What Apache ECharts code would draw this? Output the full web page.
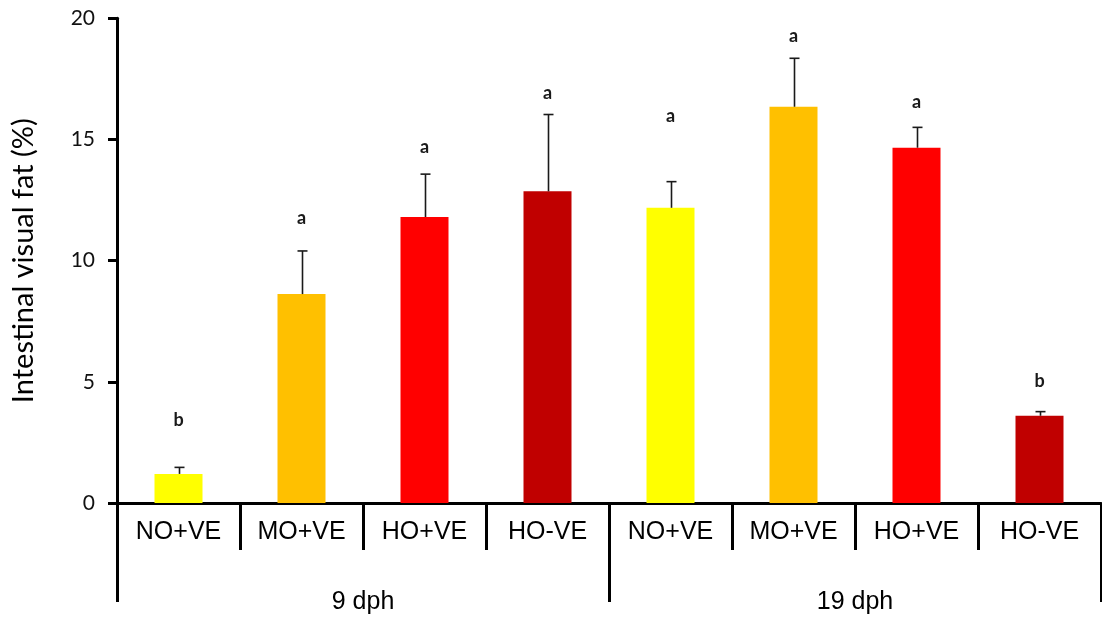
<!DOCTYPE html>
<html>
<head>
<meta charset="utf-8">
<script src="https://cdn.jsdelivr.net/npm/echarts@6/dist/echarts.min.js"></script>
<style>
html,body{margin:0;padding:0;background:#fff;}
#chart{width:1102px;height:621px;}
</style>
</head>
<body>
<div id="chart"></div>
<script>
// ---- data ----
const categories = ['NO+VE','MO+VE','HO+VE','HO-VE','NO+VE','MO+VE','HO+VE','HO-VE'];
const groups = ['9 dph','19 dph'];
const means = [1.2, 8.62, 11.8, 12.86, 12.18, 16.35, 14.66, 3.6];
const errors = [0.27, 1.78, 1.77, 3.17, 1.08, 2.0, 0.84, 0.17];
const letters = ['b','a','a','a','a','a','a','b'];
const letterY = [3.43, 11.74, 14.67, 16.9, 15.95, 19.26, 16.53, 5.04];
const yTicks = [0, 5, 10, 15, 20];
const yTitle = 'Intestinal visual fat (%)';

// ---- styles ----
const palette = ['#FFFF00','#FFC000','#FF0000','#C00000'];

const chart = echarts.init(document.getElementById('chart'), null, {renderer:'canvas'});

const option = {
  backgroundColor:'#fff',
  animation:false,
  grid:{left:117, right:1, top:18.3, bottom:118, containLabel:false},
  xAxis:[
    {
      type:'category', data:categories, position:'bottom',
      boundaryGap:true,
      axisLine:{show:true, lineStyle:{color:'#000', width:3}},
      axisTick:{show:true, inside:false, length:47, interval:0, lineStyle:{color:'#000', width:3}},
      axisLabel:{show:true, interval:0, margin:17, fontFamily:'Liberation Sans', fontSize:25, color:'#000'},
      splitLine:{show:false}
    },
    {
      type:'category', data:groups, position:'bottom', offset:0,
      boundaryGap:true,
      axisLine:{show:false},
      axisTick:{show:true, inside:false, length:99, interval:0, lineStyle:{color:'#000', width:3}},
      axisLabel:{show:true, interval:0, margin:87, fontFamily:'Liberation Sans', fontSize:25, color:'#000'},
      splitLine:{show:false}
    }
  ],
  yAxis:{
    type:'value', min:yTicks[0], max:yTicks[yTicks.length-1], interval:5,
    name:yTitle, nameLocation:'middle', nameGap:79, nameRotate:90,
    nameTextStyle:{fontFamily:'Lato', fontSize:29, color:'#000'},
    axisLine:{show:true, lineStyle:{color:'#000', width:3}},
    axisTick:{show:true, inside:false, length:9, lineStyle:{color:'#000', width:3}},
    axisLabel:{margin:22, fontFamily:'Lato', fontSize:21, color:'#111'},
    splitLine:{show:false}
  },
  series:[
    {
      type:'bar', xAxisIndex:0,
      data:means.map((v,i)=>({value:v, itemStyle:{color:palette[i%4]}})),
      barWidth:48
    },
    {
      type:'custom', xAxisIndex:0,
      data:means.map((v,i)=>[i, v, v+errors[i]]),
      renderItem:function(params, api){
        const p0 = api.coord([api.value(0), api.value(1)]);
        const p1 = api.coord([api.value(0), api.value(2)]);
        const x = Math.round(p0[0]) + 0.5;
        const st = {stroke:'#1a1a1a', lineWidth:1.6};
        return {type:'group', children:[
          {type:'line', shape:{x1:x, y1:p0[1], x2:x, y2:p1[1]}, style:st},
          {type:'line', shape:{x1:x-5, y1:p1[1], x2:x+5, y2:p1[1]}, style:st}
        ]};
      },
      z:3
    },
    {
      type:'custom', xAxisIndex:0,
      data:letterY.map((v,i)=>[i, v]),
      renderItem:function(params, api){
        const p = api.coord([api.value(0), api.value(1)]);
        return {type:'text', x:p[0], y:p[1], style:{
          text:letters[params.dataIndex], fontFamily:'Lato', fontWeight:'bold', fontSize:18,
          fill:'#1a1a1a', align:'center', verticalAlign:'middle'}};
      },
      z:4
    }
  ]
};
chart.setOption(option);
</script>
</body>
</html>
